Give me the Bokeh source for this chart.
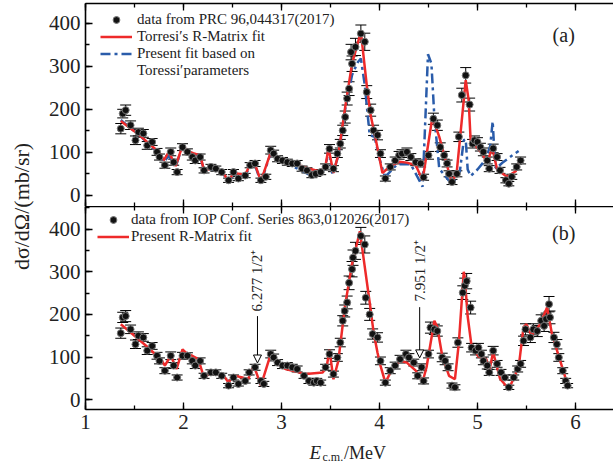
import math
from bokeh.plotting import figure
from bokeh.models import (ColumnDataSource, Whisker, TeeHead, Legend, LegendItem, Label,
                          Arrow, NormalHead, LinearAxis, SingleIntervalTicker, Range1d)
from bokeh.layouts import row, column
from bokeh.embed import file_html
from bokeh.resources import INLINE

FONT = "Liberation Serif"

# ---------------- panel (a) data ----------------
a_x = [1.36, 1.38, 1.41, 1.46, 1.51, 1.54, 1.59, 1.63, 1.68, 1.73, 1.755, 1.81, 1.87, 1.90, 1.935,
       1.99, 2.04, 2.09, 2.12, 2.17, 2.21, 2.28, 2.33, 2.39, 2.46, 2.51, 2.56, 2.63, 2.68, 2.73,
       2.79, 2.84, 2.89, 2.92, 2.96, 3.01, 3.06, 3.11, 3.16, 3.21, 3.26, 3.31, 3.35, 3.40, 3.45,
       3.49, 3.53, 3.57, 3.60, 3.625, 3.65, 3.67, 3.69, 3.71, 3.72, 3.755, 3.81, 3.85, 3.87, 3.91,
       3.94, 3.98, 4.01, 4.06, 4.11, 4.16, 4.20, 4.23, 4.28, 4.32, 4.37, 4.42, 4.45, 4.50, 4.55,
       4.59, 4.62, 4.66, 4.69, 4.71, 4.74, 4.79, 4.81, 4.84, 4.88, 4.92, 4.95, 4.97, 5.00, 5.03,
       5.06, 5.10, 5.12, 5.16, 5.20, 5.23, 5.29, 5.32, 5.35, 5.40, 5.44]
a_y = [155, 190, 198, 163, 128, 147, 144, 116, 124, 101, 89, 70, 101, 77, 54,
       112, 101, 89, 81, 89, 58, 66, 62, 54, 35, 54, 39, 46, 70, 74,
       35, 43, 105, 97, 85, 81, 77, 74, 74, 62, 58, 47, 50, 54, 66,
       108, 62, 97, 120, 151, 182, 225, 248, 333, 306, 345, 376, 357, 240, 198,
       151, 140, 97, 39, 66, 81, 93, 97, 101, 89, 77, 74, 42, 93, 178,
       163, 112, 93, 74, 50, 31, 50, 136, 233, 279, 211, 120, 128, 124, 112,
       101, 81, 62, 109, 89, 58, 35, 27, 43, 66, 81]
a_err = [12, 10, 12, 10, 10, 9, 9, 9, 8, 8, 7, 7, 9, 7, 6,
         8, 7, 7, 7, 7, 6, 6, 6, 6, 5, 6, 5, 5, 6, 7,
         5, 6, 9, 8, 7, 7, 7, 7, 7, 6, 6, 6, 6, 6, 7,
         10, 7, 9, 10, 12, 14, 15, 16, 18, 18, 20, 20, 20, 15, 14,
         12, 11, 9, 6, 7, 8, 9, 9, 9, 8, 8, 8, 7, 9, 13,
         12, 10, 9, 8, 7, 6, 7, 11, 16, 18, 15, 10, 10, 10, 9,
         9, 8, 7, 10, 8, 7, 6, 5, 6, 7, 8]

# Torresi's R-Matrix fit
a_red_x = [1.36, 1.45, 1.55, 1.65, 1.75, 1.80, 1.85, 1.92, 1.99, 2.04, 2.10, 2.17, 2.21, 2.29,
           2.39, 2.46, 2.51, 2.63, 2.68, 2.73, 2.79, 2.89, 2.96, 3.05, 3.25, 3.40, 3.45, 3.48,
           3.53, 3.58, 3.65, 3.72, 3.81, 3.87, 3.91, 3.96, 4.03, 4.11, 4.20, 4.28, 4.37, 4.44,
           4.54, 4.61, 4.74, 4.79, 4.88, 4.91, 4.93, 5.05, 5.10, 5.15, 5.20, 5.30, 5.39, 5.44]
a_red_y = [173, 157, 140, 120, 100, 82, 101, 68, 116, 103, 98, 93, 58, 62,
           57, 33, 52, 48, 72, 72, 33, 100, 88, 80, 64, 55, 70, 110,
           52, 95, 205, 306, 380, 256, 186, 132, 52, 68, 78, 76, 70, 35,
           182, 136, 27, 58, 268, 221, 128, 97, 74, 112, 60, 43, 56, 86]

# Present fit based on Toressi's parameters
a_blue_x = [1.36, 1.45, 1.55, 1.65, 1.75, 1.80, 1.85, 1.92, 1.99, 2.04, 2.10, 2.17, 2.21, 2.29,
            2.39, 2.46, 2.51, 2.63, 2.68, 2.73, 2.79, 2.89, 2.96, 3.05, 3.20, 3.31, 3.40, 3.45,
            3.48, 3.52, 3.58, 3.65, 3.72, 3.78, 3.81, 3.85, 3.90, 3.95, 4.00, 4.05, 4.08, 4.18,
            4.32, 4.44, 4.495, 4.53, 4.56, 4.61, 4.74, 4.82, 4.86, 4.88, 4.90, 4.93, 5.00, 5.08,
            5.13, 5.155, 5.17, 5.19, 5.25, 5.35, 5.42]
a_blue_y = [175, 158, 140, 118, 98, 78, 92, 66, 115, 102, 97, 92, 57, 60,
            56, 30, 50, 45, 70, 70, 30, 98, 83, 75, 58, 45, 50, 65,
            108, 48, 92, 200, 280, 310, 318, 256, 140, 136, 85, 47, 48, 72,
            72, 20, 328, 306, 182, 62, 25, 55, 128, 130, 60, 45, 60, 82,
            115, 172, 110, 62, 75, 92, 103]

# ---------------- panel (b) data ----------------
b_x = [1.36, 1.38, 1.41, 1.46, 1.51, 1.54, 1.59, 1.63, 1.68, 1.73, 1.755, 1.81, 1.87, 1.90, 1.935,
       1.99, 2.04, 2.09, 2.12, 2.17, 2.21, 2.28, 2.33, 2.39, 2.46, 2.51, 2.56, 2.63, 2.67, 2.73,
       2.79, 2.82, 2.89, 2.92, 2.96, 3.01, 3.06, 3.11, 3.16, 3.23, 3.28, 3.33, 3.36, 3.40, 3.45,
       3.49, 3.53, 3.57, 3.60, 3.625, 3.645, 3.67, 3.69, 3.72, 3.73, 3.755, 3.81, 3.85, 3.86, 3.90,
       3.93, 3.98, 4.01, 4.06, 4.11, 4.16, 4.21, 4.27, 4.30, 4.35, 4.39, 4.43, 4.45, 4.50, 4.52,
       4.56, 4.59, 4.64, 4.67, 4.70, 4.74, 4.77, 4.80, 4.85, 4.87, 4.89, 4.93, 4.94, 4.98, 5.01,
       5.04, 5.06, 5.10, 5.12, 5.16, 5.20, 5.24, 5.28, 5.32, 5.37, 5.41, 5.44, 5.47, 5.49, 5.54,
       5.57, 5.61, 5.65, 5.68, 5.70, 5.73, 5.74, 5.78, 5.81, 5.83, 5.87, 5.90, 5.92]
b_y = [156, 193, 196, 165, 130, 150, 146, 115, 126, 103, 91, 68, 103, 80, 52,
       103, 103, 91, 80, 91, 56, 64, 64, 56, 33, 52, 37, 44, 64, 76,
       44, 37, 107, 99, 87, 80, 80, 76, 72, 56, 44, 40, 44, 40, 76,
       107, 60, 99, 134, 185, 208, 228, 274, 306, 333, 349, 384, 364, 239, 200,
       154, 146, 91, 40, 68, 80, 95, 107, 99, 87, 56, 76, 44, 107, 169,
       165, 161, 99, 91, 76, 33, 29, 134, 251, 267, 278, 216, 122, 115, 122,
       107, 91, 80, 64, 115, 84, 64, 52, 29, 52, 72, 84, 138, 165, 146,
       165, 161, 185, 173, 189, 224, 193, 146, 130, 99, 68, 44, 33]
b_err = [12, 12, 13, 10, 10, 9, 9, 9, 8, 8, 7, 7, 9, 7, 6,
         8, 7, 7, 7, 7, 6, 6, 6, 6, 5, 6, 5, 5, 6, 7,
         6, 6, 9, 8, 7, 7, 7, 7, 7, 6, 6, 6, 6, 6, 7,
         10, 7, 9, 10, 12, 14, 15, 16, 18, 18, 20, 20, 20, 15, 14,
         12, 11, 9, 6, 7, 8, 9, 9, 9, 8, 7, 8, 7, 9, 13,
         12, 12, 10, 9, 8, 6, 6, 11, 16, 18, 18, 15, 10, 10, 10,
         9, 9, 8, 7, 10, 8, 7, 6, 5, 6, 7, 8, 11, 13, 12,
         13, 13, 14, 13, 14, 18, 15, 12, 11, 9, 7, 6, 5]

# Present R-Matrix fit
b_red_x = [1.36, 1.45, 1.55, 1.65, 1.78, 1.81, 1.87, 1.93, 1.99, 2.04, 2.09, 2.15, 2.21, 2.26,
           2.34, 2.41, 2.46, 2.51, 2.60, 2.66, 2.70, 2.73, 2.79, 2.89, 2.96, 3.04, 3.25, 3.42,
           3.46, 3.49, 3.53, 3.58, 3.65, 3.72, 3.80, 3.84, 3.90, 3.94, 3.98, 4.01, 4.06, 4.13,
           4.21, 4.28, 4.37, 4.44, 4.48, 4.56, 4.59, 4.64, 4.71, 4.77, 4.81, 4.86, 4.87, 4.90,
           4.94, 5.01, 5.09, 5.12, 5.16, 5.23, 5.32, 5.42, 5.47, 5.50, 5.55, 5.64, 5.71, 5.76,
           5.92]
b_red_y = [177, 160, 140, 120, 91, 80, 103, 72, 118, 107, 103, 95, 52, 60,
           60, 56, 40, 57, 52, 48, 72, 72, 33, 107, 84, 72, 60, 64,
           76, 117, 48, 91, 223, 318, 395, 328, 228, 158, 110, 80, 40, 72,
           91, 87, 68, 42, 76, 185, 170, 103, 56, 48, 134, 300, 287, 195,
           125, 101, 95, 68, 111, 49, 25, 76, 170, 177, 150, 177, 216, 154,
           35]

# annotations (panel b)
arrow_x = [2.755, 4.41]
arrow_top = [196, 217]
arrow_tip = [86, 98]
arrow_text = ["6.277 1/2\u207a", "7.951 1/2\u207a"]
arrow_text_y = [207, 230]

X_RANGE = (1.0, 6.388)
Y_RANGE_A = (-26, 446)
Y_RANGE_B = (-23, 453)
RED = "#ee2a2a"
BLUE = "#2a5caa"
TXT = "#222222"

LEFT_W = 45          # width of the y-title strip
BORDER_L = 40        # left border of the panels (tick labels)
MAIN_W = 613 - LEFT_W


def style_axis(ax, interval, labels=True, line=True):
    ax.ticker = SingleIntervalTicker(interval=interval, num_minor_ticks=2)
    ax.major_tick_in = 7
    ax.major_tick_out = 0
    ax.minor_tick_in = 4
    ax.minor_tick_out = 0
    ax.major_tick_line_width = 1.3
    ax.minor_tick_line_width = 1.3
    ax.major_tick_line_color = "black"
    ax.minor_tick_line_color = "black"
    ax.axis_line_width = 1.6
    ax.axis_line_color = "black" if line else None
    if labels:
        ax.major_label_text_font = FONT
        ax.major_label_text_font_size = "21px"
        ax.major_label_text_color = TXT
        ax.major_label_standoff = 5
    else:
        ax.major_label_text_font_size = "1px"
        ax.major_label_text_color = None
        ax.major_label_standoff = 0


def make_fig(height, yr, top_border, bottom_border):
    p = figure(width=MAIN_W, height=height, x_range=Range1d(*X_RANGE), y_range=Range1d(*yr),
               output_backend="svg", toolbar_location=None,
               min_border_left=BORDER_L, min_border_right=0,
               min_border_top=top_border, min_border_bottom=bottom_border)
    p.outline_line_color = None
    p.grid.visible = False
    p.background_fill_color = "white"
    p.border_fill_color = "white"
    return p


def add_data(p, xs, ys, errs):
    src = ColumnDataSource(dict(x=xs, y=ys,
                                lo=[y - e for y, e in zip(ys, errs)],
                                hi=[y + e for y, e in zip(ys, errs)]))
    w = Whisker(base="x", lower="lo", upper="hi", source=src, line_color="black", line_width=1,
                upper_head=TeeHead(size=11, line_color="black", line_width=1),
                lower_head=TeeHead(size=11, line_color="black", line_width=1))
    p.add_layout(w)
    return p.scatter("x", "y", source=src, marker="circle", size=7,
                     fill_color="#111111", line_color="#777777", line_width=1)


def bare_fig(w, h):
    f = figure(width=w, height=h, x_range=Range1d(0, w), y_range=Range1d(0, h),
               x_axis_type=None, y_axis_type=None,
               output_backend="svg", toolbar_location=None, min_border=0)
    f.grid.visible = False
    f.outline_line_color = None
    return f


# ---------------- top panel ----------------
top = make_fig(206, Y_RANGE_A, 3, 0)
style_axis(top.xaxis[0], 1, labels=False, line=False)
style_axis(top.yaxis[0], 100)
top_ax = LinearAxis()
style_axis(top_ax, 1, labels=False)
top.add_layout(top_ax, "above")

blue_a = top.line(a_blue_x, a_blue_y, line_color=BLUE, line_width=2.5, line_dash="10 4 3 4")
red_a = top.line(a_red_x, a_red_y, line_color=RED, line_width=2.5)
pts_a = add_data(top, a_x, a_y, a_err)
dummy_a = top.line(x=[], y=[], line_alpha=0)

leg_a = Legend(items=[
    LegendItem(label="data from PRC 96,044317(2017)", renderers=[pts_a]),
    LegendItem(label="Torresi\u2032s R-Matrix fit", renderers=[red_a]),
    LegendItem(label="Present fit based on", renderers=[blue_a]),
    LegendItem(label="Toressi\u2032parameters", renderers=[dummy_a]),
], location=(15, 127), padding=0, margin=0, spacing=0, label_height=17, glyph_height=17,
    glyph_width=32, label_standoff=5, label_text_font=FONT, label_text_font_size="15px",
    label_text_color=TXT, border_line_alpha=0, background_fill_alpha=0)
top.add_layout(leg_a)
top.add_layout(Label(x=5.88, y=372, text="(a)", text_font=FONT, text_font_size="20px",
                     text_align="center", text_baseline="middle", text_color=TXT))

# ---------------- bottom panel ----------------
bot = make_fig(231, Y_RANGE_B, 0, 28)
style_axis(bot.xaxis[0], 1)
style_axis(bot.yaxis[0], 100)
bot_ax = LinearAxis()
style_axis(bot_ax, 1, labels=False)
bot.add_layout(bot_ax, "above")

red_b = bot.line(b_red_x, b_red_y, line_color=RED, line_width=2.5)
pts_b = add_data(bot, b_x, b_y, b_err)

leg_b = Legend(items=[
    LegendItem(label="data from IOP Conf. Series 863,012026(2017)", renderers=[pts_b]),
    LegendItem(label="Present R-Matrix fit", renderers=[red_b]),
], location=(12, 164), padding=0, margin=0, spacing=0, label_height=17, glyph_height=17,
    glyph_width=32, label_standoff=2, label_text_font=FONT, label_text_font_size="15px",
    label_text_color=TXT, border_line_alpha=0, background_fill_alpha=0)
bot.add_layout(leg_b)
bot.add_layout(Label(x=5.88, y=391, text="(b)", text_font=FONT, text_font_size="20px",
                     text_align="center", text_baseline="middle", text_color=TXT))

for xa, yt, yp, tx, ty in zip(arrow_x, arrow_top, arrow_tip, arrow_text, arrow_text_y):
    bot.add_layout(Arrow(x_start=xa, y_start=yt, x_end=xa, y_end=yp, line_color="black",
                         line_width=1, end=NormalHead(size=8, fill_color="white",
                                                      line_color="black", line_width=1)))
    bot.add_layout(Label(x=xa, y=ty, text=tx, angle=math.pi / 2, text_align="left",
                         text_baseline="middle", text_font=FONT, text_font_size="15px",
                         text_color=TXT))

# ---------------- x axis title: E_c.m./MeV ----------------
XT = 286 - LEFT_W
xlab = bare_fig(MAIN_W, 28)
xlab.add_layout(Label(x=XT, y=13, text="E", text_font=FONT, text_font_size="19px",
                      text_font_style="italic", text_align="left", text_baseline="alphabetic",
                      text_color=TXT))
xlab.add_layout(Label(x=XT + 14, y=9, text="c.m.", text_font=FONT, text_font_size="12px",
                      text_align="left", text_baseline="alphabetic", text_color=TXT))
xlab.add_layout(Label(x=XT + 37, y=13, text="/MeV", text_font=FONT, text_font_size="18px",
                      text_align="left", text_baseline="alphabetic", text_color=TXT))

# ---------------- y axis title ----------------
ylab = bare_fig(LEFT_W, 465)
ylab.add_layout(Label(x=21, y=259, text="d\u03c3/d\u03a9/(mb/sr)", angle=math.pi / 2,
                      text_align="center", text_baseline="middle", text_font=FONT,
                      text_font_size="22px", text_color=TXT))

layout = row(ylab, column(top, bot, xlab))
open("out.html", "w").write(file_html(layout, INLINE))
